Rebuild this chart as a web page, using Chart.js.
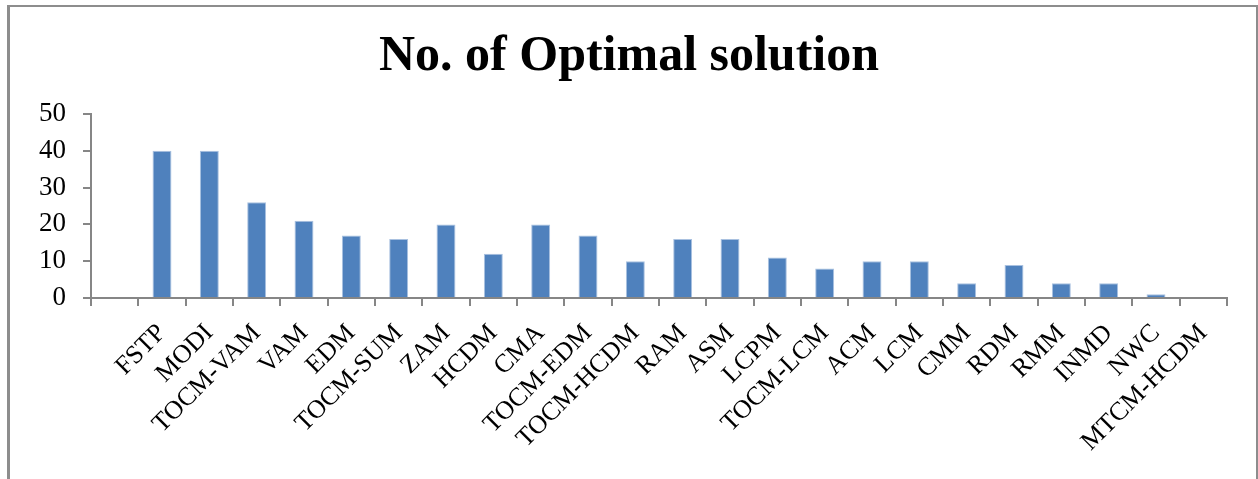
<!DOCTYPE html>
<html>
<head>
<meta charset="utf-8">
<script src="https://cdn.jsdelivr.net/npm/chart.js@4"></script>
<style>
    body {
        margin: 0;
        overflow: hidden;
        background: #ffffff;
    }
    .chart_wrap {
        position: relative;
        width: 1258px;
        height: 479px;
    }
    .chart_frame {
        position: absolute;
        left: 7px;
        top: 5px;
        width: 1246px;
        height: 520px;
        border-left: 3px solid #8d8d8d;
        border-top: 2px solid #8d8d8d;
        border-right: 2px solid #8d8d8d;
    }
    canvas {
        position: absolute;
        left: 0;
        top: 0;
    }
</style>
</head>
<body>
<div class="chart_wrap">
    <div class="chart_frame"></div>
    <canvas id="optimal"></canvas>
</div>
<script>
    // first slot of the axis is left empty in the original chart
    const METHODS = [
        "",
        "FSTP",
        "MODI",
        "TOCM-VAM",
        "VAM",
        "EDM",
        "TOCM-SUM",
        "ZAM",
        "HCDM",
        "CMA",
        "TOCM-EDM",
        "TOCM-HCDM",
        "RAM",
        "ASM",
        "LCPM",
        "TOCM-LCM",
        "ACM",
        "LCM",
        "CMM",
        "RDM",
        "RMM",
        "INMD",
        "NWC",
        "MTCM-HCDM",
    ];

    const OPTIMAL_COUNT = [
        null, 40, 40, 26, 21, 17, 16, 20, 12, 20, 17, 10, 16, 16, 11, 8, 10,
        10, 4, 9, 4, 4, 1, 0,
    ];

    const Y_TICKS = [0, 10, 20, 30, 40, 50];

    const AXIS_GRAY = "#868686";
    const SERIF = "'Liberation Serif', 'DejaVu Serif', serif";

    new Chart(document.getElementById("optimal"), {
        type: "bar",
        data: {
            labels: METHODS,
            datasets: [
                {
                    label: "No. of Optimal solution",
                    data: OPTIMAL_COUNT,
                    backgroundColor: "#4f81bd",
                    borderColor: "#a9c1e0",
                    borderWidth: 1,
                    barPercentage: 0.4,
                    categoryPercentage: 1,
                },
            ],
        },
        options: {
            responsive: true,
            maintainAspectRatio: false,
            animation: false,
            layout: {
                padding: { left: 31, right: 31, top: 0, bottom: 0 },
            },
            plugins: {
                legend: { display: false },
                tooltip: { enabled: false },
                title: {
                    display: true,
                    text: "No. of Optimal solution",
                    color: "#000000",
                    font: { family: SERIF, size: 50, weight: "bold", lineHeight: 1.2 },
                    padding: { top: 27, bottom: 27 },
                },
            },
            scales: {
                x: {
                    grid: {
                        display: true,
                        offset: true,
                        drawOnChartArea: false,
                        tickLength: 8,
                        color: AXIS_GRAY,
                        lineWidth: 2,
                    },
                    border: { display: true, color: AXIS_GRAY, width: 2 },
                    ticks: {
                        autoSkip: false,
                        minRotation: 45,
                        maxRotation: 45,
                        padding: 12,
                        color: "#000000",
                        font: { family: SERIF, size: 26 },
                    },
                    afterFit: (scale) => {
                        scale.height = 181;
                    },
                },
                y: {
                    min: Y_TICKS[0],
                    max: Y_TICKS[Y_TICKS.length - 1],
                    afterBuildTicks: (scale) => {
                        scale.ticks = Y_TICKS.map((v) => ({ value: v }));
                    },
                    grid: {
                        display: true,
                        drawOnChartArea: false,
                        tickLength: 8,
                        color: AXIS_GRAY,
                        lineWidth: 2,
                    },
                    border: { display: true, color: AXIS_GRAY, width: 2 },
                    ticks: {
                        padding: 17,
                        color: "#000000",
                        font: { family: SERIF, size: 27 },
                    },
                    afterFit: (scale) => {
                        scale.width = 60;
                    },
                },
            },
        },
    });
</script>
</body>
</html>
